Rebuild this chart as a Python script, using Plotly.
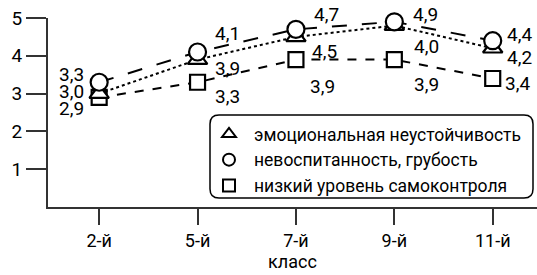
import plotly.graph_objects as go

categories = ["2-й", "5-й", "7-й", "9-й", "11-й"]
emotional = [3.0, 3.9, 4.5, 4.8, 4.2]
rudeness = [3.3, 4.1, 4.7, 4.9, 4.4]
selfcontrol = [2.9, 3.3, 3.9, 3.9, 3.4]

emotional_labels = ["3,0", "3,9", "4,5", "4,0", "4,2"]
rudeness_labels = ["3,3", "4,1", "4,7", "4,9", "4,4"]
selfcontrol_labels = ["2,9", "3,3", "3,9", "3,9", "3,4"]

names = ["эмоциональная неустойчивость", "невоспитанность, грубость", "низкий уровень самоконтроля"]
y_ticks = [1, 2, 3, 4, 5]
x_title = "класс"

FONT = "Roboto, Liberation Sans, sans-serif"
W, H = 537, 275

fig = go.Figure()

series = [
    (emotional, "triangle-up", "dot", 17),
    (rudeness, "circle", "longdash", 17),
    (selfcontrol, "square", "dash", 15),
]
# draw order: square (bottom), triangle, circle
for idx in [2, 0, 1]:
    vals, sym, dash, size = series[idx]
    fig.add_trace(go.Scatter(
        x=categories, y=vals, mode="lines+markers",
        line=dict(color="black", width=2, dash=dash),
        marker=dict(symbol=sym, size=size, color="white", line=dict(color="black", width=2.2)),
        showlegend=False, cliponaxis=False,
    ))

for idx in [0, 1, 2]:
    vals, sym, dash, size = series[idx]
    fig.add_trace(go.Scatter(
        x=[None], y=[None], mode="markers", name=names[idx],
        marker=dict(symbol=sym, size=size - 2, color="white", line=dict(color="black", width=2.2)),
    ))

# label offsets (pixels) relative to each point
offsets = {
    "r": [(-28, 8), (30, 19), (31, 15), (31, 7), (27, 6)],
    "e": [(-28, 2), (30, -9), (29, -15), (32, -21), (27, -9)],
    "s": [(-28, -11), (30, -14), (27, -27), (32, -25), (25, -5)],
}
for key, vals, labs in [("r", rudeness, rudeness_labels), ("e", emotional, emotional_labels), ("s", selfcontrol, selfcontrol_labels)]:
    for i, (c, v, t) in enumerate(zip(categories, vals, labs)):
        dx, dy = offsets[key][i]
        fig.add_annotation(x=c, y=v, text=t, showarrow=False, xshift=dx, yshift=dy,
                           font=dict(family=FONT, size=19, color="black"))

# rounded legend box (paper coords)
L, R, T, B = 48, 537, 18, 207
def px(x):
    return (x - L) / (R - L)
def py(y):
    return (B - y) / (B - T)
x0, x1, y0, y1 = 210, 533, 115, 198
r = 9
path = (f"M {px(x0 + r)} {py(y0)} L {px(x1 - r)} {py(y0)} Q {px(x1)} {py(y0)} {px(x1)} {py(y0 + r)} "
        f"L {px(x1)} {py(y1 - r)} Q {px(x1)} {py(y1)} {px(x1 - r)} {py(y1)} "
        f"L {px(x0 + r)} {py(y1)} Q {px(x0)} {py(y1)} {px(x0)} {py(y1 - r)} "
        f"L {px(x0)} {py(y0 + r)} Q {px(x0)} {py(y0)} {px(x0 + r)} {py(y0)} Z")
fig.add_shape(type="path", xref="paper", yref="paper", path=path,
              line=dict(color="black", width=1.5), fillcolor="white", layer="below")

fig.update_layout(
    width=W, height=H,
    margin=dict(l=48, r=0, t=18, b=68, autoexpand=False),
    paper_bgcolor="white", plot_bgcolor="rgba(0,0,0,0)",
    font=dict(family=FONT, size=19, color="black"),
    showlegend=True,
    legend=dict(xref="container", yref="container", x=204 / W, y=1 - 116 / H,
                xanchor="left", yanchor="top",
                bgcolor="rgba(0,0,0,0)", borderwidth=0,
                font=dict(family=FONT, size=17.5, color="black"),
                tracegroupgap=0, itemsizing="constant", itemwidth=40),
    xaxis=dict(type="category", range=[-0.52, 4.45], showgrid=False, zeroline=False,
               showline=True, linecolor="#333", linewidth=2,
               ticks="outside", ticklen=16, tickwidth=2, tickcolor="#333",
               tickfont=dict(family=FONT, size=18), automargin=False,
               title=dict(text=x_title, font=dict(family=FONT, size=18), standoff=0)),
    yaxis=dict(range=[0, 5], tickvals=y_ticks, showgrid=False, zeroline=False,
               showline=True, linecolor="#333", linewidth=2,
               ticks="outside", ticklen=20, tickwidth=2, tickcolor="#333",
               tickfont=dict(family=FONT, size=19), automargin=False),
)

fig.write_html("out.html", config={"displayModeBar": False},
               post_script="document.body.style.margin='0';document.body.style.padding='0';")
